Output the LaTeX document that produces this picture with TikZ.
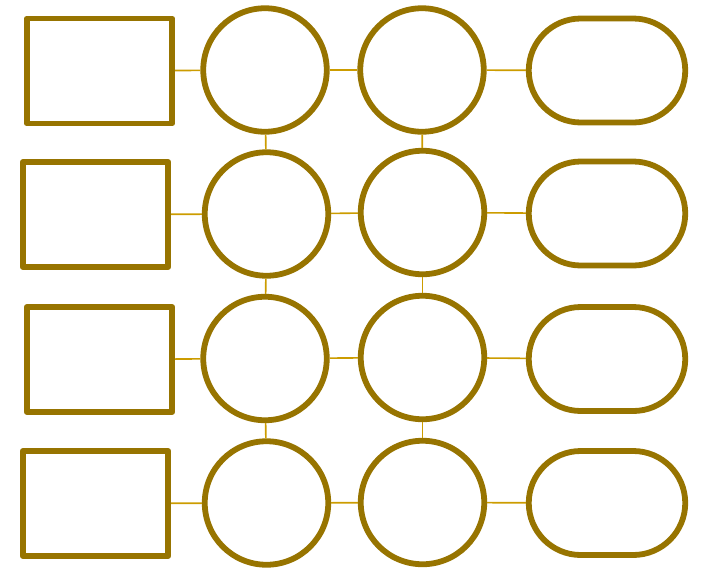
\documentclass[tikz,border=0pt]{standalone}
\usetikzlibrary{shapes.misc}
\definecolor{outl}{HTML}{977400}
\definecolor{conn}{HTML}{CC9C00}
\begin{document}
\begin{tikzpicture}[x=1pt,y=-1pt,
  shp/.style={draw=outl,line width=5.8pt,inner sep=0pt,line join=round},
  boxn/.style={shp,rectangle,minimum width=145.5pt,minimum height=105pt},
  circn/.style={shp,circle,minimum size=123.5pt},
  pill/.style={shp,rounded rectangle,minimum width=156.5pt,minimum height=104pt},
  link/.style={draw=conn,line width=1.6pt}]
\useasboundingbox (0,0) rectangle (703,571);
% row 1
\node[boxn] (r1) at (99.5,71) {};
\node[circn] (a1) at (265,70) {};
\node[circn] (b1) at (422,70) {};
\node[pill] (p1) at (607,70.5) {};
% row 2
\node[boxn] (r2) at (95.5,214.5) {};
\node[circn] (a2) at (266.5,214) {};
\node[circn] (b2) at (422.5,212.5) {};
\node[pill] (p2) at (607,213.5) {};
% row 3
\node[boxn] (r3) at (99.5,359.5) {};
\node[circn] (a3) at (265,358.5) {};
\node[circn] (b3) at (422.5,357.5) {};
\node[pill] (p3) at (607,359) {};
% row 4
\node[boxn] (r4) at (95.5,503.5) {};
\node[circn] (a4) at (266.5,503) {};
\node[circn] (b4) at (422.5,502.5) {};
\node[pill] (p4) at (607,503) {};
% connectors
\foreach \i in {1,2,3,4}{
  \draw[link] (r\i) -- (a\i);
  \draw[link] (a\i) -- (b\i);
  \draw[link] (b\i) -- (p\i);
}
\draw[link] (a1) -- (a2);
\draw[link] (a2) -- (a3);
\draw[link] (a3) -- (a4);
\draw[link] (b1) -- (b2);
\draw[link] (b2) -- (b3);
\draw[link] (b3) -- (b4);
\end{tikzpicture}
\end{document}
